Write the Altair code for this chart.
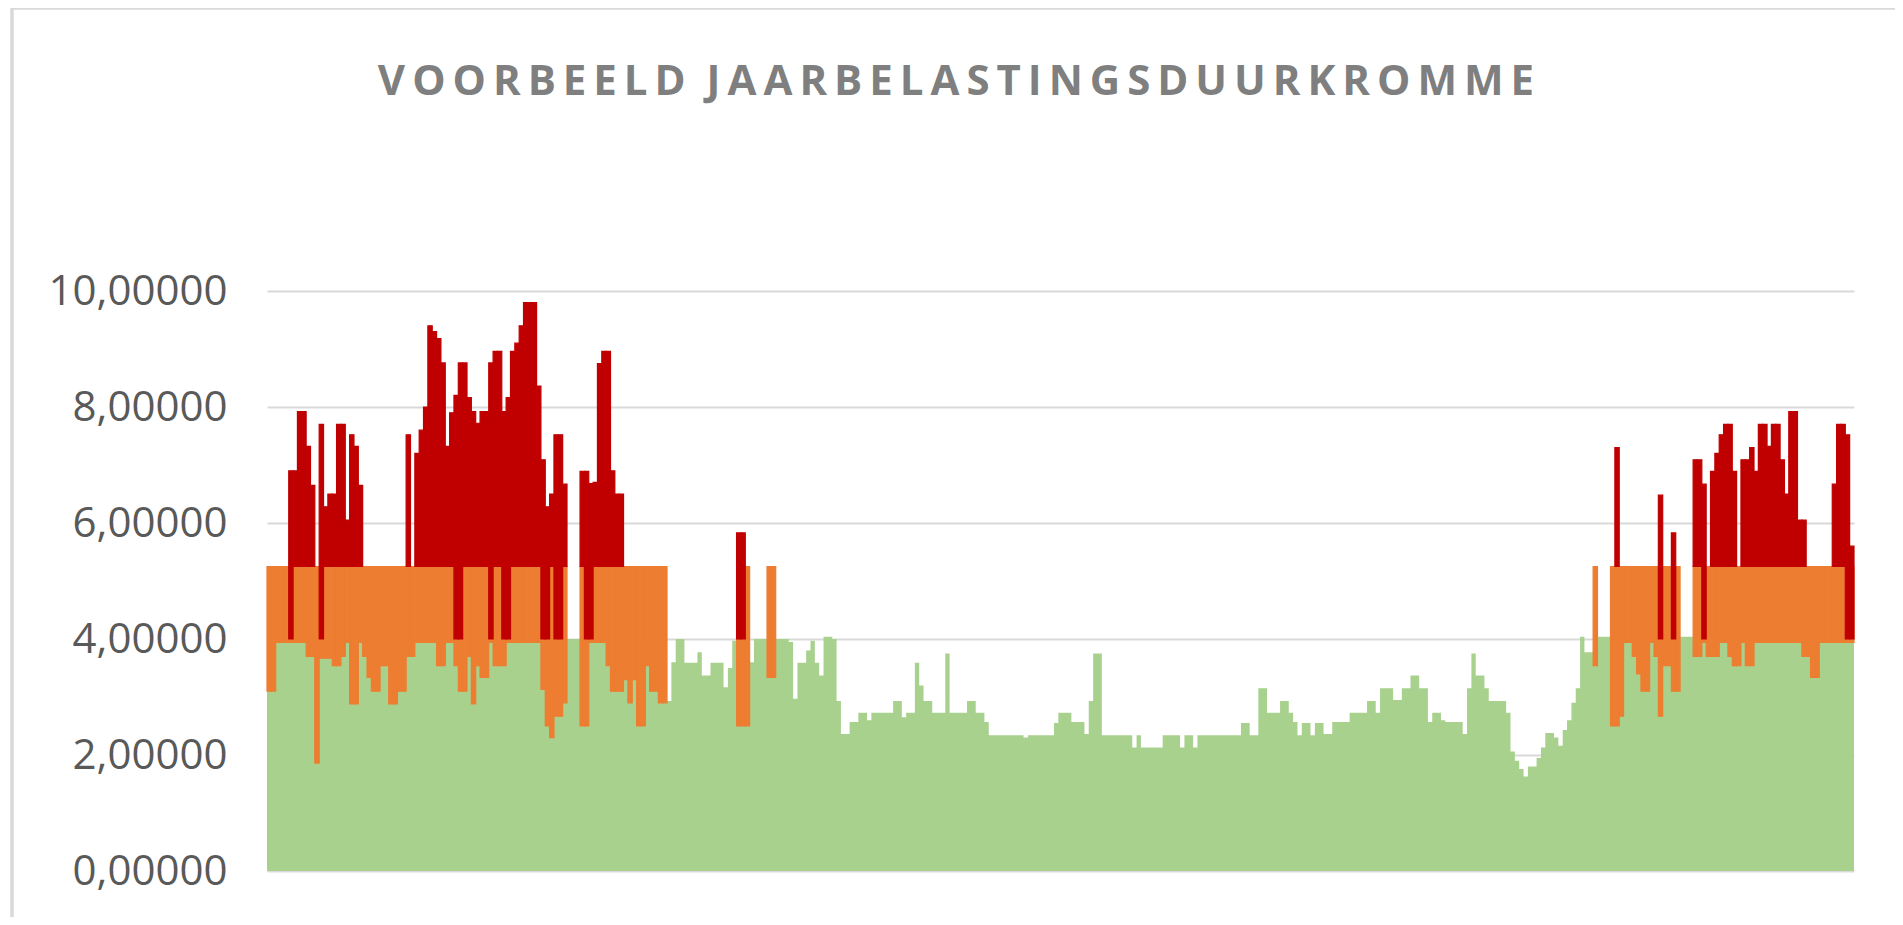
import altair as alt
import pandas as pd

# ---- data (one value per day, 365 days) ----
peak = [
    5.25, 5.25, 5.25, 5.25, 5.25, 6.9, 6.9, 7.92, 7.92, 7.32,
    6.65, 5.25, 7.7, 6.28, 6.5, 6.5, 7.7, 7.7, 6.05, 7.52,
    7.32, 6.65, 5.25, 5.25, 5.25, 5.25, 5.25, 5.25, 5.25, 5.25,
    5.25, 5.25, 7.52, 5.25, 7.2, 7.6, 8.0, 9.4, 9.3, 9.18,
    8.76, 7.32, 7.9, 8.2, 8.76, 8.76, 8.16, 7.92, 7.72, 7.92,
    7.92, 8.76, 8.96, 8.96, 7.92, 8.16, 8.96, 9.1, 9.4, 9.8,
    9.8, 9.8, 8.36, 7.09, 6.28, 6.5, 7.52, 7.52, 6.67, 4.0,
    4.0, 4.0, 6.89, 6.89, 6.68, 6.7, 8.75, 8.96, 8.96, 6.9,
    6.5, 6.5, 5.25, 5.25, 5.25, 5.25, 5.25, 5.25, 5.25, 5.25,
    5.25, 5.25, 2.93, 3.6, 4.0, 4.0, 3.59, 3.59, 3.59, 3.77,
    3.37, 3.37, 3.59, 3.59, 3.59, 3.17, 3.5, 3.97, 5.83, 5.83,
    5.25, 3.6, 4.0, 4.0, 4.0, 5.25, 5.25, 4.0, 4.0, 4.0,
    3.95, 2.97, 3.59, 3.59, 3.8, 3.97, 3.59, 3.37, 4.04, 4.04,
    4.0, 2.93, 2.36, 2.36, 2.57, 2.57, 2.73, 2.73, 2.6, 2.73,
    2.73, 2.73, 2.73, 2.73, 2.93, 2.93, 2.65, 2.73, 2.73, 3.59,
    3.2, 2.93, 2.93, 2.73, 2.73, 2.73, 3.75, 2.73, 2.73, 2.73,
    2.73, 2.93, 2.93, 2.73, 2.73, 2.57, 2.34, 2.34, 2.34, 2.34,
    2.34, 2.34, 2.34, 2.34, 2.3, 2.34, 2.34, 2.34, 2.34, 2.34,
    2.34, 2.55, 2.73, 2.73, 2.73, 2.57, 2.57, 2.57, 2.36, 2.93,
    3.75, 3.75, 2.34, 2.34, 2.34, 2.34, 2.34, 2.34, 2.34, 2.13,
    2.34, 2.13, 2.13, 2.13, 2.13, 2.13, 2.34, 2.34, 2.34, 2.34,
    2.13, 2.34, 2.34, 2.13, 2.34, 2.34, 2.34, 2.34, 2.34, 2.34,
    2.34, 2.34, 2.34, 2.34, 2.55, 2.55, 2.34, 2.34, 3.15, 3.15,
    2.73, 2.73, 2.73, 2.93, 2.93, 2.73, 2.57, 2.34, 2.55, 2.55,
    2.34, 2.55, 2.55, 2.36, 2.36, 2.57, 2.57, 2.57, 2.57, 2.73,
    2.73, 2.73, 2.73, 2.93, 2.93, 2.73, 3.15, 3.15, 3.15, 2.95,
    2.95, 3.15, 3.15, 3.37, 3.37, 3.15, 3.15, 2.57, 2.73, 2.73,
    2.6, 2.57, 2.57, 2.57, 2.57, 2.36, 3.15, 3.75, 3.37, 3.37,
    3.15, 2.93, 2.93, 2.93, 2.93, 2.73, 2.06, 1.9, 1.76, 1.63,
    1.8, 1.8, 1.95, 2.13, 2.38, 2.38, 2.3, 2.16, 2.43, 2.6,
    2.9, 3.15, 4.04, 3.77, 3.77, 5.25, 4.04, 4.04, 4.04, 5.25,
    7.3, 5.25, 5.25, 5.25, 5.25, 5.25, 5.25, 5.25, 5.25, 5.25,
    6.48, 5.25, 5.25, 5.83, 5.25, 4.04, 4.04, 4.04, 7.09, 7.09,
    6.67, 5.25, 6.89, 7.2, 7.52, 7.7, 7.7, 6.89, 5.25, 7.09,
    7.09, 7.3, 6.89, 7.7, 7.7, 7.32, 7.7, 7.7, 7.09, 6.5,
    7.92, 7.92, 6.05, 6.05, 5.25, 5.25, 5.25, 5.25, 5.25, 5.25,
    6.67, 7.7, 7.7, 7.52, 5.6,
]

# days where the orange band reaches below the usual floor, and that floor
dip_days = [0, 1, 9, 10, 11, 12, 13, 14, 15, 16, 17, 19, 20, 22, 23, 24, 25, 26, 27,
            28, 29, 30, 31, 32, 33, 39, 40, 43, 44, 45, 46, 47, 48, 49, 50, 52, 53, 54,
            63, 64, 65, 66, 67, 68, 72, 73, 78, 79, 80, 81, 82, 83, 84, 85, 86, 87, 88,
            89, 90, 91, 108, 109, 110, 115, 116, 305, 309, 310, 311, 314, 315, 316, 317,
            319, 320, 321, 322, 323, 324, 328, 329, 331, 332, 333, 336, 337, 338, 340,
            341, 353, 354, 355, 356]
dip_floor = [3.1, 3.1, 3.7, 3.7, 1.86, 3.67, 3.67, 3.67, 3.54, 3.54, 3.7, 2.88, 2.88, 3.7,
             3.34, 3.1, 3.1, 3.54, 3.54, 2.88, 2.88, 3.1, 3.1, 3.7, 3.7, 3.54, 3.54, 3.54,
             3.1, 3.1, 3.7, 2.88, 3.54, 3.34, 3.34, 3.54, 3.54, 3.54,
             3.13, 2.5, 2.3, 2.67, 2.67, 2.9, 2.5, 2.5, 3.54, 3.1, 3.1, 3.1, 3.3, 2.9, 3.3,
             2.5, 2.5, 3.54, 3.1, 3.1, 2.9, 2.9, 2.5, 2.5, 2.5, 3.34, 3.34, 3.54, 2.5, 2.5,
             2.67, 3.7, 3.4, 3.1, 3.1, 3.7, 2.67, 3.54, 3.54, 3.1, 3.1, 3.7, 3.7, 3.7, 3.7,
             3.7, 3.7, 3.54, 3.54, 3.54, 3.54, 3.7, 3.7, 3.34, 3.34]

# days where the red band reaches down to 4
red_deep_days = [5, 12, 43, 44, 51, 54, 55, 63, 64, 66, 67, 73, 74, 108, 109,
                 320, 323, 330, 363, 364]

green_cap = 3.94      # usual top of green on orange/red days
orange_cap = 5.25     # top of the orange band
red_deep_floor = 4.0
y_ticks = [0, 2, 4, 6, 8, 10]
title_text = "VOORBEELD JAARBELASTINGSDUURKROMME"

GREEN, ORANGE, RED = "#A9D18E", "#ED7D31", "#C00000"

# ---- build tables ----
floor_map = dict(zip(dip_days, dip_floor))
g_rows, o_rows, r_rows = [], [], []
for d, v in enumerate(peak):
    g_rows.append({"day": d, "hi": v if v <= 4.1 else green_cap})
    if v > 4.1:
        o_rows.append({"day": d, "day_end": d + 1,
                       "lo": floor_map.get(d, green_cap), "hi": min(v, orange_cap)})
        if v > orange_cap:
            r_rows.append({"day": d, "day_end": d + 1,
                           "lo": red_deep_floor if d in red_deep_days else orange_cap,
                           "hi": v})
# closing point so the last step of the green area reaches the end of the year
g_rows.append({"day": len(peak), "hi": g_rows[-1]["hi"]})

df_g, df_o, df_r = pd.DataFrame(g_rows), pd.DataFrame(o_rows), pd.DataFrame(r_rows)

W, H = 1587, 580
xs = alt.Scale(domain=[0, len(peak)], nice=False, zero=False)
ys = alt.Scale(domain=[0, 10], nice=False)

yaxis = alt.Axis(values=y_ticks, labelExpr="replace(format(datum.value, '.5f'), '.', ',')",
                 labelFont="Open Sans", labelFontSize=42, labelColor="#595959",
                 labelPadding=40, ticks=False, domain=False, grid=True,
                 gridColor="#D9D9D9", gridWidth=2, title=None)

green = alt.Chart(df_g).mark_area(color=GREEN, interpolate="step-after").encode(
    x=alt.X("day:Q", scale=xs, axis=None),
    y=alt.Y("hi:Q", scale=ys, axis=yaxis),
)


def band(df, color):
    return alt.Chart(df).mark_rect(color=color, stroke=color, strokeWidth=1.2).encode(
        x=alt.X("day:Q", scale=xs, axis=None),
        x2="day_end:Q",
        y=alt.Y("lo:Q", scale=ys, axis=yaxis),
        y2="hi:Q",
    )


orange = band(df_o, ORANGE)
red = band(df_r, RED)

frame = alt.Chart(pd.DataFrame({"k": [0]})).mark_rect(
    fillOpacity=0, stroke="#D9D9D9", strokeWidth=3.5
).encode(x=alt.value(-255), x2=alt.value(1700), y=alt.value(-283), y2=alt.value(700))

spaced_title = "\u2002".join("\u2009".join(w) for w in title_text.split(" "))
title = alt.Chart(pd.DataFrame({"t": [spaced_title]})).mark_text(
    font="Open Sans", fontSize=42, fontWeight="bold", color="#7F7F7F",
    align="center", baseline="alphabetic"
).encode(text="t:N", x=alt.value(689), y=alt.value(-196))

chart = alt.layer(green, orange, red, frame, title).properties(
    width=W, height=H, autosize="none", background="white",
    padding={"left": 259, "top": 283, "right": 41, "bottom": 46},
).configure_view(stroke=None)

chart.save("out.html", embed_options={"renderer": "svg", "actions": False})
